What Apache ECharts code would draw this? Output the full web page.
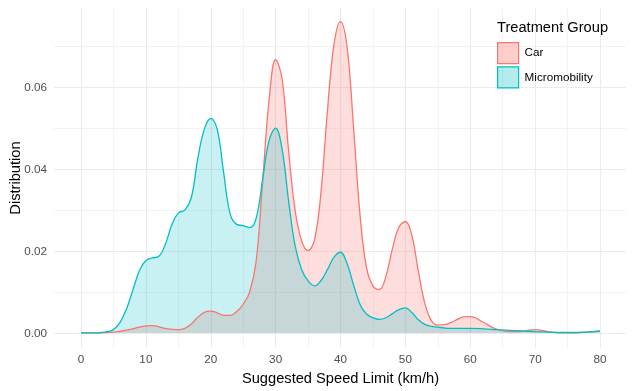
<!DOCTYPE html>
<html><head><meta charset="utf-8">
<script src="https://cdn.jsdelivr.net/npm/echarts@6/dist/echarts.min.js"></script>
<style>html,body{margin:0;padding:0;background:#fff}#c{width:634px;height:391px}</style>
</head><body><div id="c"></div>
<script>
// Suggested speed limit (km/h) sample positions
const speed = [0,1,2,3,4,5,6,7,8,9,10,11,12,13,14,15,16,17,18,19,20,21,22,23,24,25,26,27,28,29,30,
  31,32,33,34,35,36,37,38,39,40,41,42,43,44,45,46,47,48,49,50,51,52,53,54,55,56,57,58,59,60,
  62,64,66,68,70,72,74,76,78,80];
// Density, Car treatment group
const carDensity = [0,0,0,0,0.0001,0.0002,0.0004,0.0007,0.0010,0.0014,0.0017,0.0018,0.0015,0.0011,0.0009,0.0008,
  0.0011,0.0022,0.0038,0.0050,0.0053,0.0049,0.0043,0.0043,0.0052,0.0070,0.0100,0.0175,0.0370,0.0570,0.0667,
  0.0620,0.0445,0.0300,0.0225,0.0201,0.0228,0.0345,0.0545,0.0705,0.0760,0.0700,0.0505,0.0290,0.0160,0.0115,
  0.0106,0.0138,0.0205,0.0258,0.0272,0.0238,0.0150,0.0072,0.0030,0.0019,0.0020,0.0025,0.0033,0.0039,0.0040,
  0.0026,0.0009,0.0003,0.0004,0.0008,0.0003,0.0000,0.0000,0.0002,0.0005];
// Density, Micromobility treatment group
const microDensity = [0,0,0,0.0001,0.0003,0.0008,0.0025,0.0058,0.0105,0.0152,0.0177,0.0183,0.0187,0.0216,0.0264,0.0293,
  0.0300,0.0330,0.0425,0.0497,0.0524,0.0497,0.0390,0.0290,0.0265,0.0262,0.0257,0.0280,0.0375,0.0470,0.0500,
  0.0448,0.0322,0.0213,0.0155,0.0127,0.0115,0.0128,0.0155,0.0185,0.0197,0.0170,0.0118,0.0070,0.0046,0.0037,
  0.0033,0.0037,0.0047,0.0057,0.0061,0.0050,0.0032,0.0021,0.0016,0.0014,0.0012,0.0011,0.0011,0.0011,0.0011,
  0.0010,0.0008,0.0006,0.0005,0.0003,0.0002,0.0001,0.0001,0.0002,0.0004];
const groups = ['Car', 'Micromobility'];
const legendTitle = 'Treatment Group';
const xTitle = 'Suggested Speed Limit (km/h)';
const yTitle = 'Distribution';

const FONT = "'Liberation Sans', Arial, Helvetica, sans-serif";
const chart = echarts.init(document.getElementById('c'), null, {renderer: 'canvas'});
const toPairs = (xs, ys) => xs.map((x, i) => [x, ys[i]]);
chart.setOption({
  animation: false,
  backgroundColor: '#ffffff',
  textStyle: {fontFamily: FONT},
  title: {text: legendTitle, left: 497, top: 20, padding: 0,
    textStyle: {fontSize: 14.67, fontWeight: 'normal', color: '#000', fontFamily: FONT}},
  legend: {
    left: 497, top: 42, orient: 'vertical', padding: 0,
    itemWidth: 21, itemHeight: 21, itemGap: 2, icon: 'rect',
    textStyle: {fontSize: 11.7, color: '#000', fontFamily: FONT, padding: [0,0,0,1]},
    data: [
      {name: groups[0], icon: 'rect', itemStyle: {color: 'rgba(248,118,109,0.35)', borderColor: '#F8766D', borderWidth: 1.2}},
      {name: groups[1], icon: 'rect', itemStyle: {color: 'rgba(0,191,196,0.3)', borderColor: '#00BFC4', borderWidth: 1.2}}
    ]
  },
  grid: [
    {left: 54, right: 8, top: 5.3, bottom: 57.7},
    {left: 80, right: 34, top: 8, bottom: 42.5}
  ],
  xAxis: [
    {gridIndex: 0, type: 'value', min: 0, max: 1, show: false},
    {gridIndex: 1, type: 'value', min: 0, max: 80, interval: 10,
      name: xTitle, nameLocation: 'middle', nameGap: 21,
      nameTextStyle: {fontSize: 14.67, color: '#000', fontFamily: FONT},
      axisLine: {show: false}, axisTick: {show: false},
      axisLabel: {fontSize: 11.7, color: '#4d4d4d', margin: 6, fontFamily: FONT},
      splitLine: {show: true, lineStyle: {color: '#ebebeb', width: 1.1}},
      minorTick: {show: false, splitNumber: 2},
      minorSplitLine: {show: true, lineStyle: {color: '#f3f3f3', width: 1}}}
  ],
  yAxis: [
    {gridIndex: 0, type: 'value', min: 0, max: 0.08, interval: 0.02,
      axisLine: {show: false}, axisTick: {show: false},
      axisLabel: {fontSize: 11.7, color: '#4d4d4d', margin: 7, fontFamily: FONT,
        formatter: v => (v > 0.07 ? '' : v.toFixed(2))},
      splitLine: {show: true, showMaxLine: false,
        lineStyle: {color: ['#ebebeb','#ebebeb','#ebebeb','#ebebeb','rgba(0,0,0,0)'], width: 1.1}},
      minorTick: {show: false, splitNumber: 2},
      minorSplitLine: {show: true, lineStyle: {color: '#f3f3f3', width: 1}}},
    {gridIndex: 1, type: 'value', min: -0.00371, max: 0.07934,
      name: yTitle, nameLocation: 'middle', nameGap: 58, nameRotate: 90,
      nameTextStyle: {fontSize: 14.67, color: '#000', fontFamily: FONT},
      axisLine: {show: false}, axisTick: {show: false}, axisLabel: {show: false},
      splitLine: {show: false}}
  ],
  series: [
    {name: groups[0], type: 'line', xAxisIndex: 1, yAxisIndex: 1, smooth: 0.4, symbol: 'none',
      data: toPairs(speed, carDensity),
      itemStyle: {color: '#F8766D'},
      lineStyle: {color: '#F8766D', width: 1.3},
      areaStyle: {color: 'rgba(248,118,109,0.35)', origin: 0}},
    {name: groups[1], type: 'line', xAxisIndex: 1, yAxisIndex: 1, smooth: 0.4, symbol: 'none',
      data: toPairs(speed, microDensity),
      itemStyle: {color: '#00BFC4'},
      lineStyle: {color: '#00BFC4', width: 1.3},
      areaStyle: {color: 'rgba(0,191,196,0.3)', origin: 0}}
  ]
});
</script>
</body></html>
